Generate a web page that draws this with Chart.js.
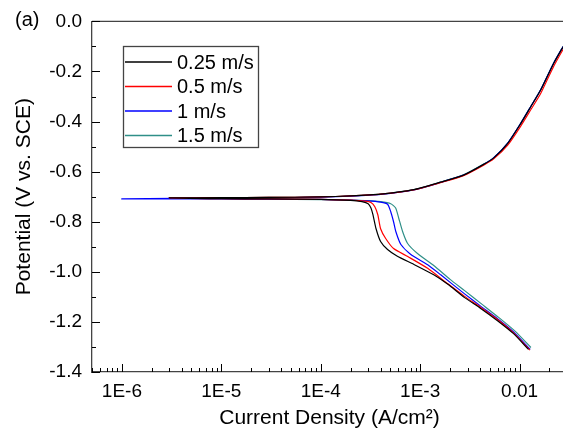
<!DOCTYPE html>
<html>
<head>
<meta charset="utf-8">
<script src="https://cdn.jsdelivr.net/npm/chart.js@4.4.1/dist/chart.umd.min.js"></script>
<style>
  html, body { margin: 0; padding: 0; background: #fff; overflow: hidden; }
  #wrap { position: relative; width: 570px; height: 434px; }
</style>
</head>
<body>
<div id="wrap"><canvas id="tafelChart"></canvas></div>
<script>
// flow velocities (legend)
var speeds = ["0.25 m/s", "0.5 m/s", "1 m/s", "1.5 m/s"];
var lineColors = ["#000000", "#ff0000", "#0000ff", "#2f8f88"];

// cathodic branches, current density (A/cm2) rising, potential (V vs SCE)
var cathI_025 = [3e-6, 1e-5, 3e-5, 1e-4, 2e-4, 2.6e-4, 3.0e-4, 3.2e-4, 3.35e-4, 3.6e-4, 4.0e-4, 4.7e-4, 5.9e-4, 8.6e-4, 1.37e-3, 1.9e-3, 2.8e-3, 4.0e-3, 6.0e-3, 8.7e-3, 1.23e-2];
var cathE_025 = [-0.705, -0.708, -0.709, -0.711, -0.715, -0.72, -0.728, -0.745, -0.772, -0.828, -0.879, -0.911, -0.938, -0.97, -1.012, -1.05, -1.103, -1.144, -1.195, -1.247, -1.31];

var cathI_05 = [3e-6, 1e-5, 3e-5, 1e-4, 2e-4, 2.8e-4, 3.2e-4, 3.5e-4, 3.75e-4, 4.0e-4, 4.5e-4, 5.4e-4, 7.5e-4, 1.19e-3, 1.9e-3, 2.8e-3, 4.0e-3, 6.0e-3, 8.7e-3, 1.27e-2];
var cathE_05 = [-0.705, -0.708, -0.709, -0.711, -0.714, -0.718, -0.723, -0.74, -0.772, -0.828, -0.867, -0.907, -0.939, -0.986, -1.048, -1.098, -1.14, -1.19, -1.244, -1.313];

var cathI_1 = [1e-6, 3e-6, 1e-5, 3e-5, 1e-4, 2e-4, 3e-4, 4e-4, 4.7e-4, 5.06e-4, 5.4e-4, 5.7e-4, 6.4e-4, 8.0e-4, 1.19e-3, 1.61e-3, 2.8e-3, 4.0e-3, 6.0e-3, 8.7e-3, 1.28e-2];
var cathE_1 = [-0.709, -0.709, -0.709, -0.71, -0.711, -0.714, -0.717, -0.722, -0.73, -0.76, -0.8, -0.84, -0.891, -0.93, -0.972, -1.012, -1.088, -1.135, -1.187, -1.24, -1.31];

var cathI_15 = [3e-6, 1e-5, 3e-5, 1e-4, 2e-4, 3e-4, 4e-4, 5.06e-4, 5.67e-4, 6.08e-4, 6.67e-4, 7.48e-4, 9.4e-4, 1.37e-3, 2.0e-3, 2.8e-3, 4.2e-3, 6.2e-3, 9e-3, 1.3e-2];
var cathE_15 = [-0.705, -0.708, -0.71, -0.712, -0.714, -0.716, -0.72, -0.728, -0.745, -0.785, -0.84, -0.887, -0.927, -0.975, -1.03, -1.075, -1.13, -1.183, -1.237, -1.302];

// anodic branch (same current points for every run)
var anodI = [1e-5, 3e-5, 1e-4, 2e-4, 4e-4, 8.6e-4, 1.6e-3, 2.73e-3, 4.35e-3, 5.5e-3, 7.6e-3, 1.02e-2, 1.3e-2, 1.63e-2, 2.2e-2, 2.8e-2];
var anodE_025 = [-0.704, -0.703, -0.701, -0.697, -0.69, -0.672, -0.642, -0.614, -0.571, -0.545, -0.487, -0.41, -0.34, -0.274, -0.168, -0.095];
var anodE_05 = [-0.704, -0.703, -0.701, -0.697, -0.69, -0.673, -0.644, -0.616, -0.574, -0.549, -0.494, -0.42, -0.352, -0.288, -0.18, -0.105];
var anodE_1 = [-0.705, -0.704, -0.702, -0.698, -0.691, -0.673, -0.643, -0.614, -0.571, -0.544, -0.486, -0.409, -0.339, -0.273, -0.167, -0.094];
var anodE_15 = [-0.704, -0.703, -0.701, -0.697, -0.69, -0.672, -0.642, -0.613, -0.57, -0.544, -0.486, -0.409, -0.339, -0.273, -0.167, -0.094];

// axis ticks
var xTickValues = [1e-6, 1e-5, 1e-4, 1e-3, 1e-2];
var xTickLabels = ["1E-6", "1E-5", "1E-4", "1E-3", "0.01"];
var yTickValues = [-1.4, -1.2, -1.0, -0.8, -0.6, -0.4, -0.2, 0.0];
var yTickLabels = ["-1.4", "-1.2", "-1.0", "-0.8", "-0.6", "-0.4", "-0.2", "0.0"];

var cathI = [cathI_025, cathI_05, cathI_1, cathI_15];
var cathE = [cathE_025, cathE_05, cathE_1, cathE_15];
var anodE = [anodE_025, anodE_05, anodE_1, anodE_15];

var FONT = "'Liberation Sans', Arial, sans-serif";

// one polyline: cathodic end -> Ecorr -> anodic end
function buildCurve(k) {
  var pts = [];
  for (var i = cathI[k].length - 1; i >= 0; i--) pts.push({ x: cathI[k][i], y: cathE[k][i] });
  for (var j = 0; j < anodI.length; j++) pts.push({ x: anodI[j], y: anodE[k][j] });
  return pts;
}

var datasets = speeds.map(function (s, k) {
  return {
    label: s,
    data: buildCurve(k),
    showLine: true,
    borderColor: lineColors[k],
    backgroundColor: lineColors[k],
    borderWidth: 1.2,
    pointRadius: 0,
    tension: 0.2,
    fill: false
  };
});

// inward ticks, top frame, legend box and panel tag
var framePlugin = {
  id: "frame",
  afterDraw: function (chart) {
    var ctx = chart.ctx, a = chart.chartArea;
    var xs = chart.scales.x, ys = chart.scales.y;
    ctx.save();
    ctx.strokeStyle = "#444";
    ctx.lineWidth = 1.3;
    ctx.beginPath();
    ctx.moveTo(a.left, a.top);
    ctx.lineTo(a.right + 5, a.top);
    ctx.stroke();

    ctx.strokeStyle = "#000";
    ctx.lineWidth = 1;
    ctx.beginPath();
    var d0 = Math.floor(Math.log10(xs.min)), d1 = Math.ceil(Math.log10(xs.max));
    for (var d = d0; d <= d1; d++) {
      for (var m = 1; m <= 9; m++) {
        var v = m * Math.pow(10, d);
        if (v < xs.min || v > xs.max) continue;
        var px = Math.round(xs.getPixelForValue(v)) + 0.5;
        var len = m === 1 ? 8 : 4;
        ctx.moveTo(px, a.bottom);
        ctx.lineTo(px, a.bottom - len);
      }
    }
    for (var t = -14; t <= 0; t++) {
      var py = Math.round(ys.getPixelForValue(t / 10)) + 0.5;
      var l2 = (t % 2 === 0) ? 8 : 4;
      ctx.moveTo(a.left, py);
      ctx.lineTo(a.left + l2, py);
    }
    ctx.stroke();

    // legend
    ctx.strokeStyle = "#444";
    ctx.lineWidth = 1.3;
    ctx.strokeRect(123.5, 46.5, 135, 101);
    ctx.font = "20px " + FONT;
    ctx.textBaseline = "middle";
    ctx.fillStyle = "#000";
    chart.data.datasets.forEach(function (ds, k) {
      var yy = 62 + k * 24.5;
      ctx.strokeStyle = ds.borderColor;
      ctx.lineWidth = 1.4;
      ctx.beginPath();
      ctx.moveTo(125, yy);
      ctx.lineTo(172, yy);
      ctx.stroke();
      ctx.fillText(ds.label, 177, yy + 1);
    });

    ctx.font = "20px " + FONT;
    ctx.fillText("(a)", 15, 20);
    ctx.restore();
  }
};

var ctxT = document.getElementById("tafelChart").getContext("2d");
var tafelChart = new Chart(ctxT, {
  type: "scatter",
  data: { datasets: datasets },
  options: {
    responsive: true,
    maintainAspectRatio: false,
    animation: false,
    layout: { padding: { left: 0, top: 18, right: 3, bottom: 0 } },
    plugins: { legend: { display: false }, tooltip: { enabled: false } },
    scales: {
      x: {
        type: "logarithmic",
        min: 5e-7,
        max: 0.03,
        afterFit: function (s) { s.height = 62; },
        afterBuildTicks: function (s) {
          s.ticks = xTickValues.map(function (v) { return { value: v }; });
        },
        ticks: {
          autoSkip: false,
          maxRotation: 0,
          padding: 8,
          color: "#000",
          font: { family: FONT, size: 19 },
          callback: function (v) {
            var i = xTickValues.indexOf(v);
            return i >= 0 ? xTickLabels[i] : "";
          }
        },
        grid: { display: false, drawTicks: false },
        border: { display: true, color: "#444", width: 1.3 },
        title: {
          display: true,
          text: "Current Density (A/cm²)",
          color: "#000",
          font: { family: FONT, size: 21 },
          padding: { top: 0, bottom: 3 }
        }
      },
      y: {
        min: -1.4,
        max: 0,
        afterFit: function (s) { s.width = 92; },
        afterBuildTicks: function (s) {
          s.ticks = yTickValues.map(function (v) { return { value: v }; });
        },
        ticks: {
          padding: 10,
          color: "#000",
          font: { family: FONT, size: 19 },
          callback: function (v) {
            var i = yTickValues.findIndex(function (t) { return Math.abs(t - v) < 1e-9; });
            return i >= 0 ? yTickLabels[i] : "";
          }
        },
        grid: { display: false, drawTicks: false },
        border: { display: true, color: "#444", width: 1.3 },
        title: {
          display: true,
          text: "Potential (V vs. SCE)",
          color: "#000",
          font: { family: FONT, size: 21 },
          padding: { top: 12, bottom: 0 }
        }
      }
    }
  },
  plugins: [framePlugin]
});
</script>
</body>
</html>
